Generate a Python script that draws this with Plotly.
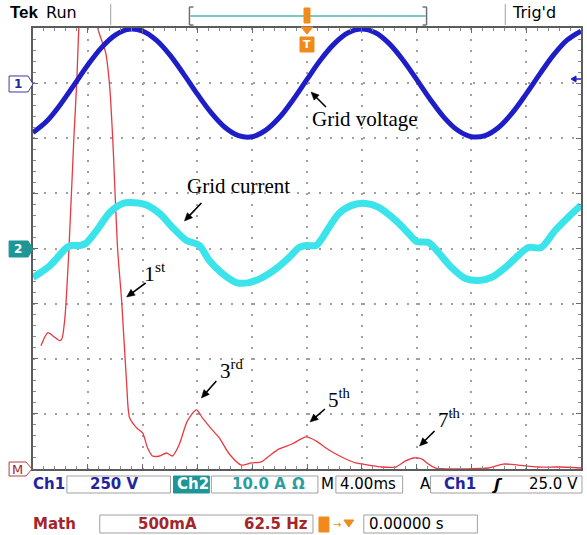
import math
import plotly.graph_objects as go

# Channel 1: grid voltage (V), one sample per ms (10 div x 4.00 ms)
time_ms = list(range(0, 41))
voltage_V = [-224, -173, -97, -8, 82, 161, 218, 244, 236, 195, 127, 41, -50, -134,
             -200, -238, -243, -213, -155, -74, 17, 106, 179, 228, 245, 228, 179,
             105, 17, -74, -155, -214, -243, -238, -200, -134, -49, 42, 128, 196, 236]

# Channel 2: grid current (A)
current_t_ms = [0.0, 1.24, 2.47, 2.84, 3.42, 3.85, 4.65, 5.6, 6.55, 7.05, 8.15, 9.24,
                10.18, 11.2, 11.64, 12.15, 12.87, 13.82, 14.84, 15.78, 16.73, 17.75,
                18.69, 19.42, 19.93, 20.65, 21.09, 21.6, 22.33, 23.27, 24.29, 25.24,
                26.47, 27.42, 28.0, 28.87, 29.6, 30.55, 31.56, 32.51, 33.45, 34.47,
                35.42, 36.15, 37.09, 38.11, 39.05, 40.0]
current_A = [-5.27, -3.09, 0.18, 0.55, 0.55, 0.91, 3.27, 6.55, 8.18, 8.36, 8.0, 6.36,
             3.82, 1.45, 1.09, 0.55, -2.18, -4.55, -6.18, -6.18, -5.27, -3.64,
             -1.64, 0.18, 0.55, 0.55, 1.82, 3.82, 6.36, 7.82, 8.18, 7.45,
             5.09, 2.73, 1.27, 1.09, -0.73, -3.45, -5.45, -5.82, -5.27, -3.45,
             -1.27, 0.18, 0.18, 3.27, 5.64, 7.82]

# Math: FFT of grid current (mA) vs frequency (Hz)
fft_freq_Hz = [9.1, 17.0, 23.9, 30.7, 33.0, 36.4, 40.9, 46.6, 50.0, 52.3, 57.0, 62.5,
               68.0, 73.9, 83.0, 87.5, 90.9, 96.6, 101.1, 106.8, 110.2, 118.2, 125.0,
               130.7, 136.4, 144.3, 152.3, 159.1, 167.0, 176.1, 186.4, 193.2, 203.4,
               212.5, 223.9, 237.5, 248.9, 260.2, 269.3, 280.7, 295.5, 311.4, 322.7,
               334.1, 345.5, 356.8, 368.2, 383.0, 397.7, 413.6, 425.0, 434.1, 443.2,
               451.1, 459.1, 470.5, 496.6, 519.3, 536.4, 553.4, 576.1, 598.9, 625.0]
fft_mA = [1118, 1236, 1200, 1164, 1182, 1373, 1982, 3000, 3527, 4000, 4500, 4700,
          4500, 4000, 3773, 3464, 3000, 1982, 1527, 773, 464, 373, 327,
          191, 118, 118, 145, 118, 227, 436, 536, 464, 364,
          282, 136, 36, 55, 64, 118, 182, 227, 291, 255,
          191, 136, 91, 55, 36, 18, 18, 73, 100, 91,
          45, 9, 2, 2, 9, 45, 36, 18, 18, 9]

# scope settings (per division) and channel ground positions (divisions)
V_PER_DIV, A_PER_DIV, MA_PER_DIV = 250, 10, 500
MS_PER_DIV, HZ_PER_DIV = 4, 62.5
CH1_POS, CH2_POS, MATH_POS = 3, 0, -4
NX, NY = 10, 8

BLUE = '#1e1ec8'
CYAN = '#3ae4ea'
RED = '#e83a40'
DBLUE = '#24249c'
TEAL = '#1e9696'
DRED = '#a3262a'
ORANGE = '#f08a1c'

# ---------------- geometry helpers (pixel -> paper) ----------------
L, T, B = 33, 28, 469
W, H = 550, B - T


def PX(x):
    return (x - L) / W


def PY(y):
    return (B - y) / H


fig = go.Figure()

# math trace on base axes (drawn under the channels)
fig.add_trace(go.Scatter(x=fft_freq_Hz, y=fft_mA, mode='lines', xaxis='x', yaxis='y',
                         line=dict(color=RED, width=1.3, shape='spline', smoothing=0.7),
                         hoverinfo='skip', showlegend=False))
fig.add_trace(go.Scatter(x=time_ms, y=voltage_V, mode='lines', xaxis='x2', yaxis='y2',
                         line=dict(color=BLUE, width=5, shape='spline', smoothing=1.0),
                         hoverinfo='skip', showlegend=False))
fig.add_trace(go.Scatter(x=current_t_ms, y=current_A, mode='lines', xaxis='x2', yaxis='y3',
                         line=dict(color=CYAN, width=7, shape='spline', smoothing=0.8),
                         hoverinfo='skip', showlegend=False))

axis_common = dict(showticklabels=False, zeroline=False, showline=True, linecolor='#5c5c5c',
                   linewidth=2, mirror='ticks', ticks='inside', ticklen=5, tickwidth=1,
                   tickcolor='#6a6a6a', showgrid=True, gridcolor='#a0a0a0', gridwidth=2,
                   griddash='2px,9px', fixedrange=True)

fig.update_layout(
    width=587, height=535,
    margin=dict(l=L, r=587 - L - W, t=T, b=535 - B),
    paper_bgcolor='white', plot_bgcolor='white',
    xaxis=dict(range=[0, NX * HZ_PER_DIV], dtick=HZ_PER_DIV, tick0=0,
               minor=dict(dtick=HZ_PER_DIV / 5, ticks='inside', ticklen=3, tickcolor='#8a8a8a',
                          showgrid=False), **axis_common),
    yaxis=dict(range=[(-NY / 2 - MATH_POS) * MA_PER_DIV, (NY / 2 - MATH_POS) * MA_PER_DIV],
               dtick=MA_PER_DIV, tick0=0,
               minor=dict(dtick=MA_PER_DIV / 5, ticks='inside', ticklen=3, tickcolor='#8a8a8a',
                          showgrid=False), **axis_common),
    xaxis2=dict(range=[0, NX * MS_PER_DIV], overlaying='x', visible=False, fixedrange=True),
    yaxis2=dict(range=[(-NY / 2 - CH1_POS) * V_PER_DIV, (NY / 2 - CH1_POS) * V_PER_DIV],
                overlaying='y', visible=False, fixedrange=True),
    yaxis3=dict(range=[(-NY / 2 - CH2_POS) * A_PER_DIV, (NY / 2 - CH2_POS) * A_PER_DIV],
                overlaying='y', visible=False, fixedrange=True),
    showlegend=False,
)

shapes = []
ann = []


def rect(x0, y0, x1, y1, fill='white', line='#a0a0a0', lw=1):
    shapes.append(dict(type='rect', xref='paper', yref='paper', x0=PX(x0), x1=PX(x1),
                       y0=PY(y1), y1=PY(y0), fillcolor=fill, line=dict(color=line, width=lw),
                       layer='above'))


def line(x0, y0, x1, y1, color='#909090', lw=1):
    shapes.append(dict(type='line', xref='paper', yref='paper', x0=PX(x0), x1=PX(x1),
                       y0=PY(y0), y1=PY(y1), line=dict(color=color, width=lw), layer='above'))


def poly(pts, fill, color, lw=1):
    path = 'M' + ' L'.join(f'{PX(a):.5f},{PY(b):.5f}' for a, b in pts) + ' Z'
    shapes.append(dict(type='path', xref='paper', yref='paper', path=path, fillcolor=fill,
                       line=dict(color=color, width=lw), layer='above'))


def text(x, y, s, size=15, color='black', family='DejaVu Sans', anchor='left', bold=False):
    if bold:
        s = f'<b>{s}</b>'
    ann.append(dict(xref='paper', yref='paper', x=PX(x), y=PY(y), text=s, showarrow=False,
                    xanchor=anchor, yanchor='middle',
                    font=dict(size=size, color=color, family=family)))


def arrow(tx, ty, hx, hy, head=8.0, half=3.6):
    dx, dy = hx - tx, hy - ty
    n = math.hypot(dx, dy)
    ux, uy = dx / n, dy / n
    bx, by = hx - ux * head, hy - uy * head
    line(tx, ty, bx + ux, by + uy, color='black', lw=1.6)
    poly([(hx, hy), (bx - uy * half, by + ux * half), (bx + uy * half, by - ux * half)],
         'black', 'black', 0.5)


# ---------------- top status bar ----------------
text(8, 13, '<b>Tek</b>', size=17, family='Liberation Sans')
text(44, 13, 'Run', size=16, family='DejaVu Sans')
line(111, 4, 111, 25, color='#a0a0a0', lw=1)
line(507, 4, 507, 25, color='#a0a0a0', lw=1)
text(512, 13, "Trig'd", size=16, family='DejaVu Sans')
# record-window bracket
line(191, 16, 427, 16, color='#4fb3b3', lw=1.5)
line(190, 7, 190, 25, color='#707070', lw=1.5)
line(190, 7, 194, 7, color='#707070', lw=1.5)
line(190, 25, 194, 25, color='#707070', lw=1.5)
line(428, 7, 428, 25, color='#707070', lw=1.5)
line(424, 7, 428, 7, color='#707070', lw=1.5)
line(424, 25, 428, 25, color='#707070', lw=1.5)
rect(305, 8, 311, 23, fill=ORANGE, line=ORANGE)
poly([(302, 27), (314, 27), (308, 34)], ORANGE, ORANGE)
rect(301, 37, 315, 52, fill=ORANGE, line=ORANGE)
text(308, 44.5, '<b>T</b>', size=11, color='white', anchor='center')

# ---------------- channel markers ----------------
poly([(9, 76), (28, 76), (33, 84), (28, 92), (9, 92)], 'white', '#3a3aa8', 1)
text(18, 84, '<b>1</b>', size=12, color=DBLUE, anchor='center')
poly([(9, 241), (28, 241), (33, 249), (28, 257), (9, 257)], TEAL, TEAL, 1)
text(18, 249, '<b>2</b>', size=12, color='white', anchor='center')
poly([(9, 462), (26, 462), (32, 469), (26, 476), (9, 476)], 'white', '#b04040', 1)
text(17, 469, 'M', size=13, color=DRED, anchor='center')
# ch1 trigger level marker at right
poly([(573, 79), (578, 76), (578, 82)], BLUE, BLUE, 1)
line(578, 79, 583, 79, color=BLUE, lw=1.5)

# ---------------- bottom readouts ----------------
text(31, 484, 'Ch1', size=15, color=DBLUE, bold=True)
rect(67, 476, 171, 493)
text(88, 484, '250 V', size=15, color=DBLUE, bold=True)
rect(174, 476, 210, 493, fill=TEAL, line=TEAL)
text(176, 484, 'Ch2', size=15, color='white', bold=True)
rect(212, 476, 319, 493)
text(231, 484, '10.0 A', size=15, color='#2a9e9e', bold=True)
text(291, 484, 'Ω', size=15, color='#2a9e9e', bold=True)
text(320, 484, 'M', size=15, color='black')
rect(337, 476, 404, 493)
text(339, 484, '4.00ms', size=15, color='black')
text(419, 484, 'A', size=15, color='black')
rect(432, 476, 584, 493)
text(443, 484, 'Ch1', size=15, color=DBLUE, bold=True)
text(491, 484, '<i>ʃ</i>', size=16, color='black', bold=True)
text(582, 484, '25.0 V', size=15, color='black', anchor='right')

text(31, 524, 'Math', size=15, color=DRED, bold=True)
rect(100, 515, 314, 533)
text(136, 524, '500mA', size=15, color=DRED, bold=True)
text(311, 524, '62.5 Hz', size=15, color=DRED, bold=True, anchor='right')
rect(320, 517, 330, 532, fill=ORANGE, line=ORANGE)
text(338, 524, '→', size=10, color=ORANGE, anchor='center')
poly([(345, 520), (355, 520), (350, 527)], ORANGE, ORANGE)
rect(365, 515, 479, 533)
text(368, 524, '0.00000 s', size=15, color='black')

# ---------------- annotations on the traces ----------------
SERIF = 'Liberation Serif'
text(311, 119, 'Grid voltage', size=21, family=SERIF)
arrow(327, 107, 312, 92)
text(186, 186, 'Grid current', size=21, family=SERIF)
arrow(202, 203, 185, 221)
text(142, 272, '1<sup>st</sup>', size=22, family=SERIF)
arrow(146, 283, 127, 297)
text(219, 369, '3<sup>rd</sup>', size=21, family=SERIF)
arrow(217, 381, 202, 398)
text(327, 398, '5<sup>th</sup>', size=21, family=SERIF)
arrow(326, 409, 311, 422)
text(437, 418, '7<sup>th</sup>', size=21, family=SERIF)
arrow(436, 431, 421, 446)

fig.update_layout(shapes=shapes, annotations=ann)
fig.write_html('out.html', config={'displayModeBar': False, 'staticPlot': True},
               post_script="document.body.style.margin='0';document.body.style.overflow='hidden';")
